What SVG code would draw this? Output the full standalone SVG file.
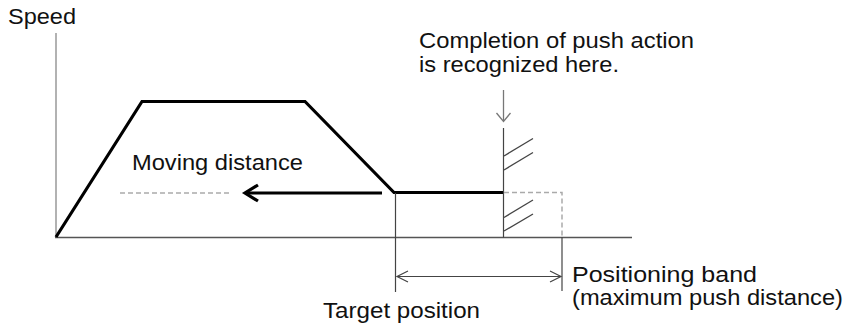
<svg xmlns="http://www.w3.org/2000/svg" width="845" height="325" viewBox="0 0 845 325">
<style>
text{font-family:"Liberation Sans",Arial,sans-serif;font-size:21.5px;fill:#111}
.ax{stroke:#999;stroke-width:1.5;fill:none}
.xa{stroke:#555;stroke-width:1.3;fill:none}
.thin{stroke:#444;stroke-width:1.2;fill:none}
.dash{stroke:#aaa;stroke-width:1.5;stroke-dasharray:5 3;fill:none}
.prof{stroke:#000;stroke-width:3.2;fill:none;stroke-linejoin:miter}
.hatch{stroke:#444;stroke-width:1.3;fill:none}
</style>
<rect width="845" height="325" fill="#fff"/>
<g id="axes">
<line class="ax" x1="56" y1="33" x2="56" y2="238"/>
<line class="xa" x1="55" y1="237.5" x2="632" y2="237.5"/>
</g>
<g id="profile">
<polyline class="prof" points="56,237 142,101.5 305,101.5 394,192.5 503,192.5"/>
</g>
<g id="wall">
<line class="thin" x1="503.5" y1="128" x2="503.5" y2="237.5"/>
<line class="hatch" x1="504" y1="156" x2="533" y2="138.5"/>
<line class="hatch" x1="504" y1="170" x2="533" y2="152.5"/>
<line class="hatch" x1="504" y1="217.5" x2="533" y2="200"/>
<line class="hatch" x1="504" y1="231" x2="533" y2="214"/>
</g>
<g id="connectors">
<line class="dash" x1="120" y1="193" x2="232" y2="193"/>
<line stroke="#000" stroke-width="3.2" x1="382" y1="193" x2="246" y2="193"/>
<polyline stroke="#000" stroke-width="3.2" fill="none" points="258,185 245,193 258,201"/>
<line stroke="#777" stroke-width="1.3" x1="503.5" y1="90" x2="503.5" y2="121"/>
<polyline stroke="#777" stroke-width="1.3" fill="none" points="496.5,113 503.5,121.5 510.5,113"/>
<polyline class="dash" points="504,192.5 562,192.5 562,237"/>
<line class="thin" x1="562" y1="237" x2="562" y2="291"/>
<line class="thin" x1="395.5" y1="193" x2="395.5" y2="292"/>
<line class="thin" x1="397" y1="276.5" x2="561" y2="276.5"/>
<polyline class="thin" points="408,271 397,276.5 408,282"/>
<polyline class="thin" points="550,271 561,276.5 550,282"/>
</g>
<g id="labels">
<text x="8" y="24" textLength="68" lengthAdjust="spacingAndGlyphs">Speed</text>
<text x="419" y="47.5" textLength="275" lengthAdjust="spacingAndGlyphs">Completion of push action</text>
<text x="419" y="71.5" textLength="200" lengthAdjust="spacingAndGlyphs">is recognized here.</text>
<text x="132" y="170" textLength="171" lengthAdjust="spacingAndGlyphs">Moving distance</text>
<text x="572" y="282" textLength="185" lengthAdjust="spacingAndGlyphs">Positioning band</text>
<text x="572" y="305" textLength="271" lengthAdjust="spacingAndGlyphs">(maximum push distance)</text>
<text x="323" y="318" textLength="157" lengthAdjust="spacingAndGlyphs">Target position</text>
</g>
</svg>
